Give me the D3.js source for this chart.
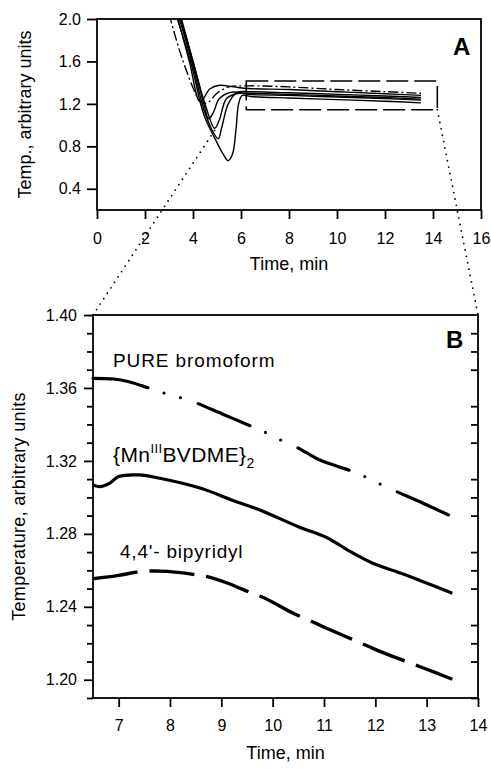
<!DOCTYPE html>
<html>
<head>
<meta charset="utf-8">
<script src="https://cdn.jsdelivr.net/npm/d3@7"></script>
<style>
  body { margin: 0; background: #fff; }
  svg { font-family: "Liberation Sans", Arial, sans-serif; }
  .axis path, .axis line { stroke: #000; stroke-width: 1.8; }
  .axis text { font-size: 16px; fill: #000; }
</style>
</head>
<body>
<svg id="chart" width="491" height="769"></svg>
<script>
// Panel A: overview of all runs (time, temp)
const ticksAX = [0, 2, 4, 6, 8, 10, 12, 14, 16];
const ticksAY = [0.4, 0.8, 1.2, 1.6, 2.0];
const runDeep = [[3.2,2.1],[3.9,1.6],[4.45,1.1],[4.9,0.88],[5.25,0.73],[5.47,0.665],[5.65,0.73],[5.8,0.98],[5.9,1.2],[6.05,1.28],[6.4,1.27],[8,1.255],[10,1.24],[12,1.225],[13.5,1.21]];
const runMin087 = [[3.3,2.1],[3.95,1.6],[4.45,1.15],[4.85,0.93],[5.05,0.87],[5.2,0.98],[5.47,1.2],[5.85,1.31],[6.3,1.315],[8,1.305],[10,1.29],[12,1.275],[13.5,1.26]];
const runMin097 = [[3.35,2.1],[4.0,1.6],[4.5,1.2],[4.9,0.97],[5.1,1.05],[5.4,1.25],[5.9,1.3],[6.3,1.3],[8,1.29],[10,1.275],[12,1.26],[13.5,1.245]];
const runMin106 = [[3.4,2.1],[4.0,1.6],[4.45,1.2],[4.65,1.06],[4.85,1.12],[5.1,1.25],[5.6,1.31],[6.3,1.29],[8,1.28],[10,1.265],[12,1.25],[13.5,1.235]];
const runEarly = [[3.25,2.1],[3.85,1.6],[4.3,1.22],[4.7,1.34],[5.1,1.375],[5.7,1.36],[6.3,1.345],[8,1.335],[10,1.315],[12,1.295],[13.5,1.28]];
const runDashDot = [[3.0,2.05],[3.5,1.66],[4.1,1.3],[4.3,1.22],[4.6,1.21],[5.0,1.3],[5.5,1.36],[6.3,1.37],[8,1.36],[10,1.335],[12,1.315],[13.5,1.3]];
const zoomBox = {t0: 6.22, t1: 14.18, v0: 1.145, v1: 1.416};
const linkLeftA = [4.9, 0.95];

// Panel B: zoomed part
const ticksBX = [7, 8, 9, 10, 11, 12, 13, 14];
const ticksBY = [1.20, 1.24, 1.28, 1.32, 1.36, 1.40];
const bromoform = [[6.5,1.3653],[6.9,1.3649],[7.2,1.3634],[7.6,1.3598],[7.9,1.3571],[8.2,1.3547],[8.45,1.3525],[9.03,1.3456],[9.6,1.3388],[9.9,1.3351],[10.15,1.3315],[10.43,1.3281],[10.66,1.3245],[10.92,1.3205],[11.24,1.3172],[11.57,1.3141],[11.84,1.3108],[12.13,1.3068],[12.39,1.3035],[12.93,1.2968],[13.5,1.2894]];
const mnDimer = [[6.5,1.3068],[6.63,1.3059],[6.82,1.3077],[7.0,1.3114],[7.4,1.3123],[7.8,1.3105],[8.6,1.305],[9.2,1.2986],[9.75,1.2931],[10.5,1.2839],[11.05,1.278],[11.5,1.2705],[11.95,1.2639],[12.5,1.2584],[12.93,1.2538],[13.5,1.2474]];
const bipyridyl = [[6.5,1.2554],[7.0,1.2572],[7.35,1.259],[7.6,1.2596],[7.95,1.2594],[8.45,1.2578],[8.7,1.2567],[9.1,1.2532],[9.6,1.2474],[9.85,1.2447],[10.4,1.2365],[10.7,1.2328],[10.95,1.2295],[11.85,1.2185],[12.1,1.2154],[12.95,1.2063],[13.2,1.2036],[13.5,1.2003]];

const svg = d3.select("#chart");

// ---------- panel A ----------
const xA = d3.scaleLinear().domain([0, 16]).range([97, 481]);
const yA = d3.scaleLinear().domain([0.2, 2.0]).range([210, 19]);

svg.append("clipPath").attr("id", "clipA").append("rect")
    .attr("x", xA(0)).attr("y", yA(2.0))
    .attr("width", xA(16) - xA(0)).attr("height", yA(0.2) - yA(2.0));

const lineA = d3.line().x(d => xA(d[0])).y(d => yA(d[1])).curve(d3.curveCatmullRom);
const gA = svg.append("g").attr("clip-path", "url(#clipA)");
[runDeep, runMin087, runMin097, runMin106, runEarly].forEach(r => {
    gA.append("path").attr("d", lineA(r)).attr("fill", "none")
      .attr("stroke", "#000").attr("stroke-width", 1.4);
});
gA.append("path").attr("d", lineA(runDashDot)).attr("fill", "none")
  .attr("stroke", "#000").attr("stroke-width", 1.4).attr("stroke-dasharray", "10,3,2,3");

svg.append("rect")
    .attr("x", xA(zoomBox.t0)).attr("y", yA(zoomBox.v1))
    .attr("width", xA(zoomBox.t1) - xA(zoomBox.t0))
    .attr("height", yA(zoomBox.v0) - yA(zoomBox.v1))
    .attr("fill", "none").attr("stroke", "#000").attr("stroke-width", 1.6)
    .attr("stroke-dasharray", "22,6");

svg.append("rect").attr("x", xA(0)).attr("y", yA(2.0))
    .attr("width", xA(16) - xA(0)).attr("height", yA(0.2) - yA(2.0))
    .attr("fill", "none").attr("stroke", "#000").attr("stroke-width", 1.8);

svg.append("g").attr("class", "axis").attr("transform", `translate(0,${yA(0.2)})`)
    .call(d3.axisBottom(xA).tickValues(ticksAX).tickSize(9).tickSizeOuter(0).tickPadding(14).tickFormat(d3.format("d")))
    .call(g => g.select(".domain").remove());
svg.append("g").attr("class", "axis").attr("transform", `translate(${xA(0)},0)`)
    .call(d3.axisLeft(yA).tickValues(ticksAY).tickSize(10).tickSizeOuter(0).tickPadding(6).tickFormat(d3.format(".1f")))
    .call(g => g.select(".domain").remove());

svg.append("text").attr("x", (xA(0) + xA(16)) / 2).attr("y", 270)
    .attr("text-anchor", "middle").attr("font-size", 18).text("Time, min");
svg.append("text").attr("transform", `translate(31,${(yA(0.2) + yA(2.0)) / 2}) rotate(-90)`)
    .attr("text-anchor", "middle").attr("font-size", 18).text("Temp., arbitrary units");
svg.append("text").attr("x", 453).attr("y", 55)
    .attr("font-size", 24).attr("font-weight", "bold").text("A");

// ---------- panel B ----------
const xB = d3.scaleLinear().domain([6.5, 14]).range([93, 478]);
const yB = d3.scaleLinear().domain([1.19, 1.40]).range([698, 315]);

// dotted links from the box in A to panel B
svg.append("line")
    .attr("x1", xA(linkLeftA[0])).attr("y1", yA(linkLeftA[1]))
    .attr("x2", xB(6.5)).attr("y2", yB(1.40))
    .attr("stroke", "#000").attr("stroke-width", 1.8)
    .attr("stroke-linecap", "round").attr("stroke-dasharray", "0,6.5");
svg.append("line")
    .attr("x1", xA(zoomBox.t1)).attr("y1", yA(zoomBox.v0))
    .attr("x2", xB(14)).attr("y2", yB(1.40))
    .attr("stroke", "#000").attr("stroke-width", 1.8)
    .attr("stroke-linecap", "round").attr("stroke-dasharray", "0,6.5");

const lineB = d3.line().x(d => xB(d[0])).y(d => yB(d[1])).curve(d3.curveCatmullRom);
svg.append("path").attr("d", lineB(bromoform)).attr("fill", "none")
    .attr("stroke", "#000").attr("stroke-width", 3.2).attr("stroke-linecap", "round")
    .attr("stroke-dasharray", "56,17,0,17,0,19");
svg.append("path").attr("d", lineB(mnDimer)).attr("fill", "none")
    .attr("stroke", "#000").attr("stroke-width", 3.2);
svg.append("path").attr("d", lineB(bipyridyl)).attr("fill", "none")
    .attr("stroke", "#000").attr("stroke-width", 3.4)
    .attr("stroke-dasharray", "45,12");

const minorB = d3.range(119, 141).map(d => d / 100).filter(v => Math.round(v * 100) % 4 !== 0);

svg.append("rect").attr("x", xB(6.5)).attr("y", yB(1.40))
    .attr("width", xB(14) - xB(6.5)).attr("height", yB(1.19) - yB(1.40))
    .attr("fill", "none").attr("stroke", "#000").attr("stroke-width", 1.8);

svg.append("g").attr("class", "axis").attr("transform", `translate(0,${yB(1.19)})`)
    .call(d3.axisBottom(xB).tickValues(ticksBX).tickSize(9).tickSizeOuter(0).tickPadding(13).tickFormat(d3.format("d")))
    .call(g => g.select(".domain").remove());
svg.append("g").attr("class", "axis").attr("transform", `translate(${xB(6.5)},0)`)
    .call(d3.axisLeft(yB).tickValues(ticksBY).tickSize(9).tickSizeOuter(0).tickPadding(7).tickFormat(d3.format(".2f")))
    .call(g => g.select(".domain").remove());
svg.append("g").attr("class", "axis").attr("transform", `translate(${xB(6.5)},0)`)
    .call(d3.axisLeft(yB).tickValues(minorB).tickSize(6).tickSizeOuter(0).tickFormat(""))
    .call(g => g.select(".domain").remove());
svg.append("g").attr("class", "axis").attr("transform", `translate(${xB(14)},0)`)
    .call(d3.axisRight(yB).tickValues(minorB).tickSize(-7).tickSizeOuter(0).tickFormat(""))
    .call(g => g.select(".domain").remove());

svg.append("text").attr("x", (xB(6.5) + xB(14)) / 2).attr("y", 759)
    .attr("text-anchor", "middle").attr("font-size", 18).text("Time, min");
svg.append("text").attr("transform", `translate(25,${(yB(1.19) + yB(1.40)) / 2}) rotate(-90)`)
    .attr("text-anchor", "middle").attr("font-size", 18).attr("letter-spacing", 0.3)
    .text("Temperature, arbitrary units");
svg.append("text").attr("x", 446).attr("y", 348)
    .attr("font-size", 24).attr("font-weight", "bold").text("B");

// series labels
svg.append("text").attr("x", 113).attr("y", 367).attr("font-size", 19)
    .attr("letter-spacing", 0.9).text("PURE bromoform");
const mnLabel = svg.append("text").attr("x", 113).attr("y", 462).attr("font-size", 21)
    .attr("letter-spacing", 0.4);
mnLabel.append("tspan").text("{Mn");
mnLabel.append("tspan").attr("dy", -9).attr("font-size", 13).text("III");
mnLabel.append("tspan").attr("dy", 9).text("BVDME}");
mnLabel.append("tspan").attr("dy", 6).attr("font-size", 14).text("2");
svg.append("text").attr("x", 120).attr("y", 558).attr("font-size", 19)
    .attr("letter-spacing", 0.8).text("4,4'- bipyridyl");
</script>
</body>
</html>
